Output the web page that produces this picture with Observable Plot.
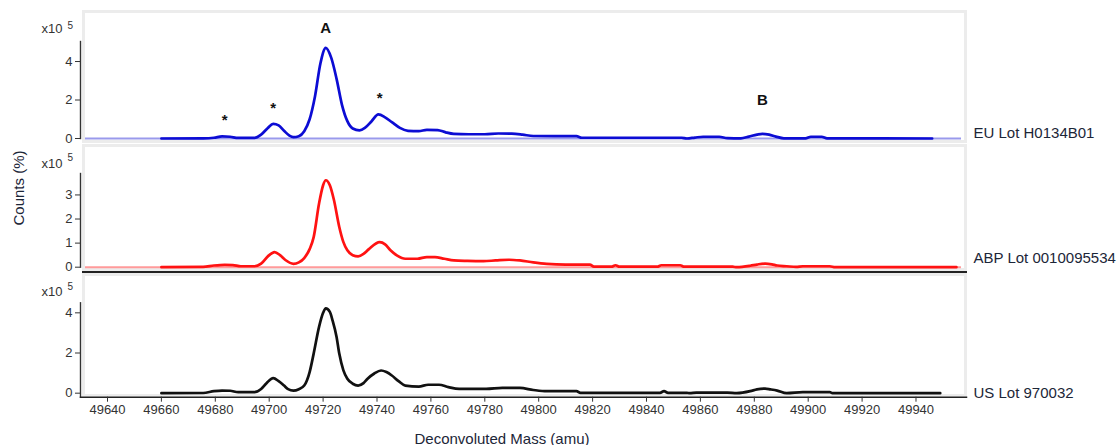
<!DOCTYPE html>
<html>
<head>
<meta charset="utf-8">
<script src="https://cdn.jsdelivr.net/npm/d3@7"></script>
<script src="https://cdn.jsdelivr.net/npm/@observablehq/plot@0.6"></script>
<style>
  body { margin: 0; background: #fff; }
  #chart { position: relative; width: 1117px; height: 445px; overflow: hidden; background: #fff;
           font-family: "Liberation Sans", Arial, sans-serif; color: #222; }
  .frame { position: absolute; box-sizing: border-box; border: 3px solid #ececec; }
  #chart svg { position: absolute; left: 0; overflow: visible; background: transparent; }
  .title { position: absolute; font-size: 15px; color: #1c2638; white-space: nowrap; }
</style>
</head>
<body>
<div id="chart"></div>
<script>
// ---------------- data (counts in units of 10^5) ----------------
const lots = ["EU Lot H0134B01", "ABP Lot 0010095534", "US Lot 970032"];

const euMass = [49660, 49675.5, 49679.5, 49682.5, 49685.5, 49688.5, 49694.5, 49697, 49699.5, 49701.5,
  49703.5, 49705.5, 49707.5, 49709, 49711, 49713, 49715, 49717, 49719, 49721,
  49723, 49725, 49727, 49729, 49731, 49733.5, 49735.5, 49738, 49740.5, 49743,
  49745.5, 49748.5, 49751.5, 49755.5, 49758.5, 49762.5, 49765.5, 49768.5, 49774, 49780,
  49785, 49790, 49794, 49798, 49814, 49816, 49853, 49855, 49858, 49861,
  49867, 49870, 49875, 49878, 49881, 49883, 49885.5, 49888, 49891, 49899,
  49901, 49905, 49907, 49946];
const euCounts = [0, 0.01, 0.04, 0.11, 0.09, 0.03, 0.03, 0.2, 0.55, 0.76,
  0.68, 0.4, 0.15, 0.07, 0.12, 0.38, 1.0, 2.2, 3.9, 4.71,
  4.2, 3.1, 1.75, 0.9, 0.52, 0.42, 0.55, 0.9, 1.25, 1.1,
  0.85, 0.55, 0.4, 0.38, 0.45, 0.44, 0.32, 0.24, 0.22, 0.22,
  0.26, 0.25, 0.2, 0.13, 0.12, 0.04, 0.04, 0, 0.05, 0.09,
  0.09, 0.02, 0.01, 0.1, 0.2, 0.24, 0.2, 0.1, 0.01, 0.01,
  0.09, 0.09, 0.01, 0];

const abpMass = [49660, 49675.5, 49679.5, 49683.5, 49686.5, 49689.5, 49694.5, 49697, 49699.5, 49702,
  49704, 49706, 49709, 49711, 49713, 49715, 49716.5, 49718.5, 49720, 49721,
  49722.5, 49724, 49726, 49727.5, 49729, 49731, 49733, 49735, 49737, 49741,
  49743, 49745, 49747.5, 49750.5, 49755, 49758.5, 49761.5, 49765, 49768.5, 49773.5,
  49779.5, 49784, 49789, 49793, 49798, 49803, 49810, 49819, 49820.5, 49827,
  49828.5, 49830, 49844, 49845.5, 49852.5, 49854, 49872, 49873.5, 49878.5, 49881,
  49884, 49886.5, 49888.5, 49892, 49895.5, 49898, 49908, 49910, 49955];
const abpCounts = [0, 0.01, 0.07, 0.1, 0.09, 0.04, 0.04, 0.15, 0.45, 0.63,
  0.5, 0.3, 0.14, 0.2, 0.38, 0.75, 1.25, 2.64, 3.4, 3.61,
  3.4, 2.8, 1.67, 1.05, 0.7, 0.5, 0.45, 0.55, 0.75, 1.04,
  0.95, 0.7, 0.48, 0.35, 0.35, 0.42, 0.42, 0.35, 0.28, 0.26,
  0.25, 0.28, 0.31, 0.28, 0.2, 0.14, 0.11, 0.11, 0.02, 0.02,
  0.08, 0.02, 0.02, 0.08, 0.08, 0.02, 0.02, 0, 0.06, 0.11,
  0.15, 0.12, 0.07, 0.04, 0.01, 0.04, 0.04, 0, 0];

const usMass = [49660, 49675.5, 49679.5, 49682.5, 49685.5, 49688.5, 49694.5, 49697, 49699, 49701.5,
  49703.5, 49705.5, 49707, 49709, 49711, 49713, 49715, 49716.5, 49718.5, 49720,
  49721, 49722.5, 49723.5, 49725, 49726, 49727.5, 49729, 49731, 49733, 49735,
  49736.5, 49739, 49741.5, 49743.5, 49745.5, 49748, 49750.5, 49755.5, 49759, 49763,
  49766.5, 49770.5, 49780.5, 49786.5, 49793, 49798, 49803, 49814, 49815.5, 49845,
  49846.5, 49848, 49855, 49856, 49858.5, 49870, 49873.5, 49878.5, 49881, 49884,
  49886, 49888.5, 49892, 49898, 49908, 49909, 49949];
const usCounts = [0, 0.01, 0.1, 0.13, 0.12, 0.05, 0.05, 0.21, 0.5, 0.75,
  0.6, 0.38, 0.2, 0.13, 0.2, 0.38, 1.05, 1.97, 3.3, 4.0,
  4.22, 4.05, 3.63, 2.8, 1.97, 1.15, 0.72, 0.47, 0.38, 0.5,
  0.72, 0.98, 1.13, 1.05, 0.88, 0.6, 0.38, 0.33, 0.42, 0.42,
  0.3, 0.21, 0.21, 0.26, 0.26, 0.16, 0.1, 0.1, 0.02, 0.02,
  0.1, 0.02, 0.02, 0, 0.03, 0.03, 0, 0.1, 0.19, 0.23,
  0.19, 0.13, 0, 0.05, 0.05, 0, 0];

const xTicks = [49640, 49660, 49680, 49700, 49720, 49740, 49760, 49780, 49800, 49820,
  49840, 49860, 49880, 49900, 49920, 49940];
const yTicksEU = [0, 2, 4];
const yTicksABP = [0, 1, 2, 3];
const yTicksUS = [0, 2, 4];

const annotationMass = [49683.5, 49701.5, 49721, 49741, 49883];
const annotationText = ["*", "*", "A", "*", "B"];

const xTitle = "Deconvoluted Mass (amu)";
const yTitle = "Counts (%)";
const scaleText = "x10";
const scaleExp = "5";

// ---------------- build ----------------
const zip = (m, c) => m.map((d, i) => ({mass: d, counts: c[i]}));
const series = [zip(euMass, euCounts), zip(abpMass, abpCounts), zip(usMass, usCounts)];

const peakNear = (data, m) => d3.max(data.filter(d => Math.abs(d.mass - m) <= 2.5), d => d.counts);
const annotations = annotationMass.map((m, i) => ({mass: m, label: annotationText[i], peak: peakNear(series[0], m)}));

const chart = document.getElementById("chart");
const FONT = "'Liberation Sans', Arial, sans-serif";
const xDomain = [49629.98, 49958.74];

// layout of the three stacked panels (pixels)
const layout = [
  {top: 0,   height: 145, mt: 41,   mb: 7,    yDomain: [0, 5.04],  ticks: yTicksEU,  stroke: "#0c0cd4", base: "#9a9aec", labelDy: -5, x10Dy: -13, expDy: -16},
  {top: 140, height: 132, mt: 33,   mb: 5.3,  yDomain: [0, 3.89],  ticks: yTicksABP, stroke: "#ff1212", base: "#ff9a9a", labelDy: -9, x10Dy: -10, expDy: -16},
  {top: 270, height: 175, mt: 32.3, mb: 48.3, yDomain: [-0.2, 4.5], ticks: yTicksUS, stroke: "#111111", base: null,      labelDy: -4, x10Dy: -11, expDy: -16}
];

// gray panel frames
const frames = [[10, 133], [144, 127], [273, 124]];
frames.forEach(([t, h]) => {
  const f = document.createElement("div");
  f.className = "frame";
  Object.assign(f.style, {left: "82px", top: t + "px", width: "885px", height: h + "px"});
  chart.appendChild(f);
});
// black separator under the middle panel
const sep = document.createElement("div");
Object.assign(sep.style, {position: "absolute", left: "82px", top: "271px", width: "885px", height: "1.5px", background: "#222"});
chart.appendChild(sep);

layout.forEach((L, i) => {
  const marks = [];
  if (L.base) marks.push(Plot.ruleY([0], {stroke: L.base, strokeWidth: 2, insetLeft: 5, insetRight: 5}));
  marks.push(Plot.line(series[i], {x: "mass", y: "counts", stroke: L.stroke, strokeWidth: 2.7, curve: "monotone-x"}));
  marks.push(Plot.frame({anchor: "left", stroke: "#333", strokeWidth: 1.4}));
  marks.push(Plot.axisY({ticks: L.ticks, tickSize: 5, tickPadding: 3, tickFormat: d => String(d), label: null, fontSize: 13}));
  marks.push(Plot.text([scaleText], {frameAnchor: "top-left", text: d => d, dx: -18, dy: L.x10Dy, textAnchor: "end", lineAnchor: "middle", fontSize: 13, fill: "#333"}));
  marks.push(Plot.text([scaleExp], {frameAnchor: "top-left", text: d => d, dx: -13, dy: L.expDy, textAnchor: "start", lineAnchor: "middle", fontSize: 10, fill: "#333"}));
  marks.push(Plot.text([lots[i]], {frameAnchor: "bottom-right", text: d => d, dx: 7, dy: L.labelDy, textAnchor: "start", lineAnchor: "middle", fontSize: 15, fill: "#1c2638"}));
  if (i === 0) {
    marks.push(Plot.text(annotations.filter(d => d.label === "*"), {x: "mass", y: "peak", text: "label", dy: -16, fontSize: 15, fontWeight: "bold", fill: "#111"}));
    marks.push(Plot.text(annotations.filter(d => d.label === "A"), {x: "mass", y: "peak", text: "label", dy: -20, fontSize: 15, fontWeight: "bold", fill: "#111"}));
    marks.push(Plot.text(annotations.filter(d => d.label === "B"), {x: "mass", y: "peak", text: "label", dy: -34, fontSize: 15, fontWeight: "bold", fill: "#111"}));
  }
  if (i === 2) {
    marks.push(Plot.frame({anchor: "bottom", stroke: "#222", strokeWidth: 1.5}));
    marks.push(Plot.axisX({ticks: xTicks, tickSize: 5, tickPadding: 3, tickFormat: d => String(d), label: null, fontSize: 13}));
  }
  const svg = Plot.plot({
    width: 1117,
    height: L.height,
    marginLeft: 80,
    marginRight: 151,
    marginTop: L.mt,
    marginBottom: L.mb,
    x: {domain: xDomain, axis: i === 2 ? undefined : null},
    y: {domain: L.yDomain},
    style: {fontFamily: FONT, fontSize: "13px", color: "#333", background: "transparent", overflow: "visible"},
    marks
  });
  svg.style.top = L.top + "px";
  chart.appendChild(svg);
});

// axis titles
const yt = document.createElement("div");
yt.className = "title";
yt.textContent = yTitle;
Object.assign(yt.style, {left: "18px", top: "188px", transform: "translate(-50%, -50%) rotate(-90deg)"});
chart.appendChild(yt);

const xt = document.createElement("div");
xt.className = "title";
xt.textContent = xTitle;
Object.assign(xt.style, {left: "502px", top: "438px", transform: "translate(-50%, -50%)"});
chart.appendChild(xt);
</script>
</body>
</html>
